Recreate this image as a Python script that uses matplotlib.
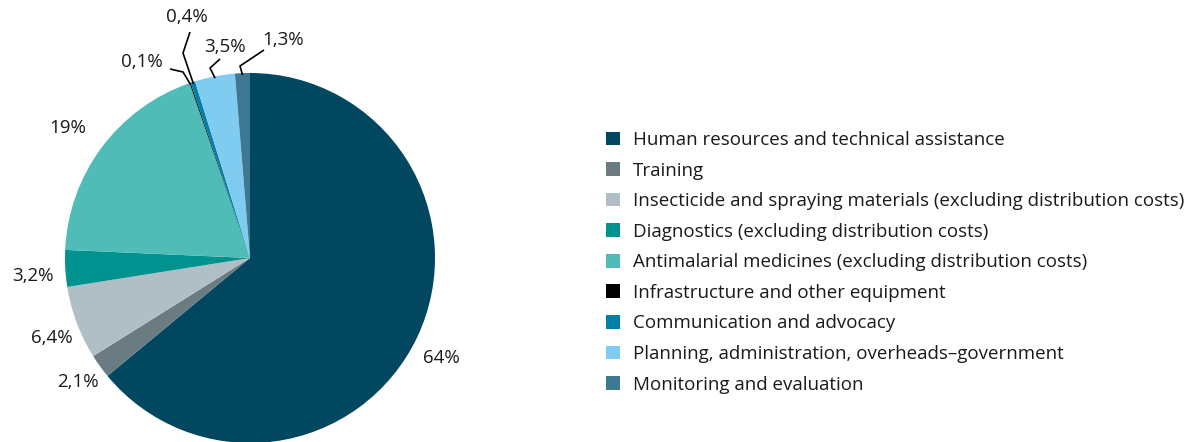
import matplotlib
matplotlib.use("Agg")
import matplotlib.pyplot as plt
import numpy as np

categories = [
    "Human resources and technical assistance",
    "Training",
    "Insecticide and spraying materials (excluding distribution costs)",
    "Diagnostics (excluding distribution costs)",
    "Antimalarial medicines (excluding distribution costs)",
    "Infrastructure and other equipment",
    "Communication and advocacy",
    "Planning, administration, overheads\u2013government",
    "Monitoring and evaluation",
]
values = [64, 2.1, 6.4, 3.2, 19, 0.1, 0.4, 3.5, 1.3]
labels = ["64%", "2,1%", "6,4%", "3,2%", "19%", "0,1%", "0,4%", "3,5%", "1,3%"]
colors = ["#00475f", "#6b7b82", "#b0bec6", "#00928f", "#4fbcb8",
          "#000000", "#0080a8", "#80ccf0", "#3e7893"]

plt.rcParams['font.family'] = ['Open Sans', 'DejaVu Sans']

W, H = 1197, 442
fig = plt.figure(figsize=(W / 100, H / 100), dpi=100)
ax = fig.add_axes([0, 0, 1, 1])

cx, cy, R = 250, H - 258, 185
wedges, _ = ax.pie(values, colors=colors, startangle=90, counterclock=False,
                   center=(cx, cy), radius=R, frame=True,
                   wedgeprops=dict(linewidth=0))
ax.set_xlim(0, W)
ax.set_ylim(0, H)
ax.set_aspect('equal')
ax.axis('off')

# label positions (pixel coords from top)
label_pos = [(441, 358), (78, 382), (52, 338), (33, 276), (68, 128),
             (142, 62), (187, 17), (225, 47), (283, 40)]
fs = 13.5
for i, (lab, (x, y)) in enumerate(zip(labels, label_pos)):
    ax.text(x, H - y, lab, ha='center', va='center', fontsize=fs, color='#1a1a1a')

def edge_point(i, r=1.0):
    w = wedges[i]
    ang = np.deg2rad((w.theta1 + w.theta2) / 2)
    return cx + R * r * np.cos(ang), cy + R * r * np.sin(ang)

# leader lines: (index, elbow points in pixel coords from top)
leaders = {
    5: [(170, 69), (183, 72)],
    6: [(190, 32), (183, 53)],
    7: [(220, 59), (210, 68)],
    8: [(264, 50), (240, 66)],
}
for i, pts in leaders.items():
    ex, ey = edge_point(i, 0.99)
    xs = [p[0] for p in pts] + [ex]
    ys = [H - p[1] for p in pts] + [ey]
    ax.plot(xs, ys, color='black', lw=1.2, solid_capstyle='butt')

leg = ax.legend(wedges, categories, loc='upper left',
                bbox_to_anchor=(606 / W, 1 - 131 / H), frameon=False,
                fontsize=13.5, handlelength=0.75, handleheight=0.75,
                handletextpad=0.69, labelspacing=0.67, borderpad=0,
                borderaxespad=0)
for t in leg.get_texts():
    t.set_color('#1a1a1a')

fig.savefig("out.png", dpi=100)
